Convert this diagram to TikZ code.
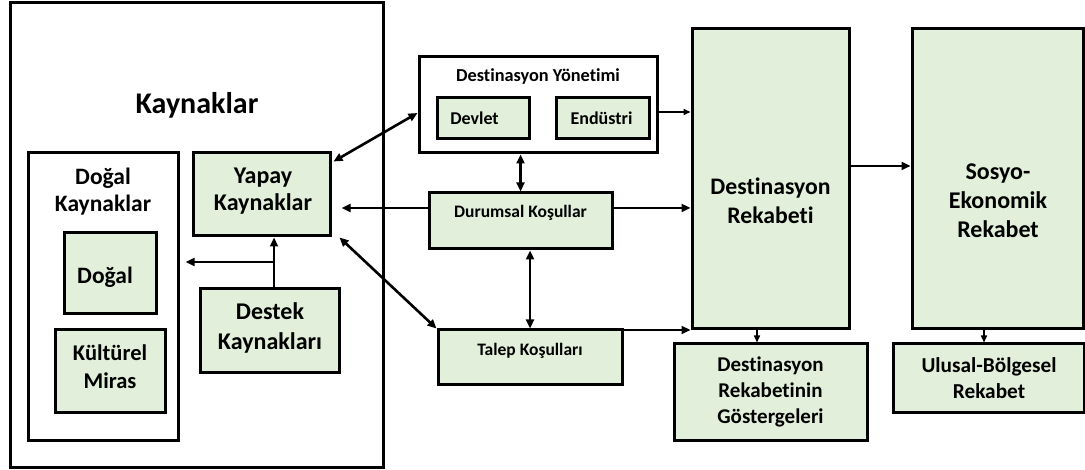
\documentclass[tikz,border=0pt]{standalone}
\usepackage{fontspec}
\setmainfont{Carlito}[RawFeature=-liga]
\usetikzlibrary{arrows.meta,calc}
\definecolor{gfill}{RGB}{226,239,218}
\tikzset{
  box/.style={draw=black, line width=3pt, rectangle, inner sep=0pt},
  gbox/.style={box, fill=gfill},
  wbox/.style={box, fill=white},
  txt/.style args={#1/#2}{font=\bfseries\fontsize{#1}{#2}\selectfont, align=center, inner sep=0pt},
  arr/.style={line width=2.6pt, -{Triangle[length=9pt,width=8pt]}},
  darr/.style={line width=2.6pt, {Triangle[length=9pt,width=8pt]}-{Triangle[length=9pt,width=8pt]}},
  tarr/.style={line width=1.5pt, -{Triangle[length=7pt,width=6pt]}},
}
\begin{document}
\begin{tikzpicture}[x=1pt,y=-1pt]
\useasboundingbox (0,0) rectangle (1085,470);
% Kaynaklar
\node[wbox, minimum width=373pt, minimum height=464pt] (kay) at (196.5,235) {};
\node[txt=30/36] (kayt) at (197,105) {Kaynaklar};
\node[wbox, minimum width=150pt, minimum height=287pt] (dk) at (103,296.5) {};
\node[txt=23.5/27] (dkt) at (103,191.5) {Doğal\\Kaynaklar};
\node[gbox, minimum width=92pt, minimum height=81pt] (dogal) at (110,273.5) {};
\node[txt=23.5/27] (dogalt) at (105,277) {Doğal};
\node[gbox, minimum width=110pt, minimum height=83pt] (kult) at (110,371.5) {};
\node[txt=22.5/28] (kultt) at (110,367) {Kültürel\\Miras};
\node[gbox, minimum width=137pt, minimum height=83pt] (yapay) at (261.5,194.5) {};
\node[txt=24/27] (yapayt) at (263,191.5) {Yapay\\Kaynaklar};
\node[gbox, minimum width=139pt, minimum height=84pt] (destek) at (269.5,331) {};
\node[txt=24/30] (destekt) at (270,328) {Destek\\Kaynakları};
% Destinasyon Yonetimi
\node[wbox, minimum width=238pt, minimum height=96pt] (dy) at (538,105) {};
\node[txt=18.3/22] (dyt) at (538,77) {Destinasyon Yönetimi};
\node[gbox, minimum width=92pt, minimum height=41pt] (devlet) at (483,118.5) {};
\node[txt=18/22] (devlett) at (474.5,118) {Devlet};
\node[gbox, minimum width=93pt, minimum height=41pt] (endustri) at (602.5,118.5) {};
\node[txt=18/22] (endustrit) at (601.5,118) {Endüstri};
\node[gbox, minimum width=183pt, minimum height=56pt] (dur) at (520.5,221) {};
\node[txt=17.5/21] (durt) at (520.5,213) {Durumsal Koşullar};
\node[gbox, minimum width=184pt, minimum height=55pt] (talep) at (530,357.5) {};
\node[txt=17.5/21] (talept) at (530,351) {Talep Koşulları};
% Rekabet
\node[gbox, minimum width=157pt, minimum height=300pt] (dr) at (770.5,179) {};
\node[txt=23.7/29] (drt) at (770.5,200.5) {Destinasyon\\Rekabeti};
\node[gbox, minimum width=171pt, minimum height=300pt] (sosyo) at (997.5,179) {};
\node[txt=24/29] (sosyot) at (998,201) {Sosyo-\\Ekonomik\\Rekabet};
\node[gbox, minimum width=193pt, minimum height=96pt] (gost) at (770.5,392) {};
\node[txt=21/26] (gostt) at (770.5,392) {Destinasyon\\Rekabetinin\\Göstergeleri};
\node[gbox, minimum width=191pt, minimum height=69pt] (ulusal) at (988.5,378.5) {};
\node[txt=21.3/26] (ulusalt) at (989,378) {Ulusal-Bölgesel\\Rekabet};
% connectors
\draw[darr] ([xshift=2pt,yshift=-10pt]yapay.north east) -- ([yshift=-8pt]dy.west);
\draw[darr] (dur.north) -- (dur.north |- dy.south);
\draw[darr] (talep.north) -- (talep.north |- dur.south);
\draw[darr] ([xshift=8pt]yapay.south east) -- (talep.north west);
\coordinate (yapin) at ($(yapay.east)+(10,0)$);
\coordinate (durw) at ([yshift=13pt]dur.west);
\coordinate (dure) at ([yshift=13pt]dur.east);
\coordinate (dye) at ([yshift=-7pt]dy.east);
\coordinate (dre) at ([yshift=13pt]dr.east);
\coordinate (tne) at ([yshift=-1.5pt]talep.north east);
\draw[arr] (durw) -- (yapin |- durw);
\draw[arr] (dure) -- (dr.west |- dure);
\draw[tarr] (dye) -- (dr.west |- dye);
\draw[arr] (tne) -- (dr.west |- tne);
\draw[arr] (dre) -- (sosyo.west |- dre);
\draw[tarr] ([xshift=-13.5pt]dr.south) -- ([xshift=-13.5pt]dr.south |- gost.north);
\draw[tarr] ([xshift=-13.5pt]sosyo.south) -- ([xshift=-13.5pt]sosyo.south |- ulusal.north);
\draw[arr] ([xshift=4.5pt]destek.north) -- ([xshift=4.5pt]destek.north |- yapay.south);
\coordinate (br) at (274,262);
\coordinate (brend) at ($(dk.east |- br)+(6,0)$);
\draw[arr] (br) -- (brend);
\end{tikzpicture}
\end{document}
